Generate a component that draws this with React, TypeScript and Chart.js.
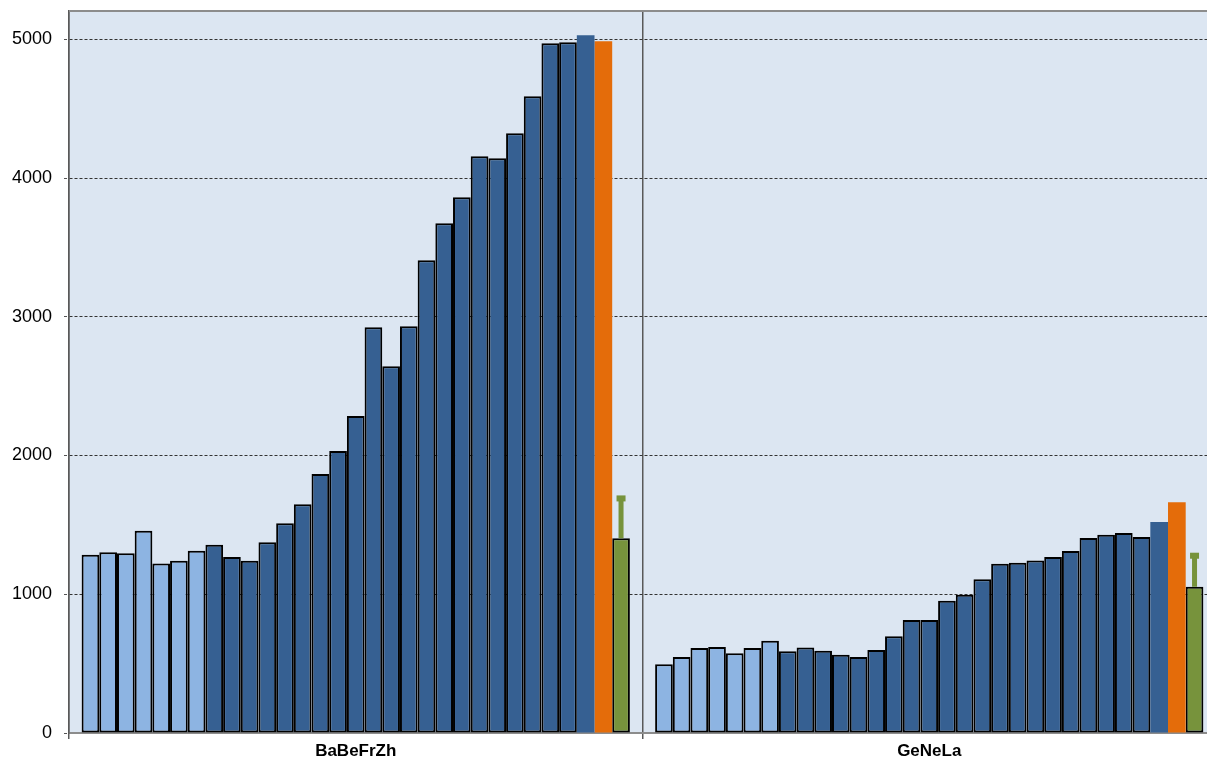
import React, { useEffect, useRef } from "react";
import { Chart, registerables } from "chart.js";

Chart.register(...registerables);

const categories = ["BaBeFrZh", "GeNeLa"];

// Light blue bars (first 7 per group)
const lightG1 = [1285, 1302, 1295, 1458, 1222, 1241, 1313];
const lightG2 = [495, 548, 612, 619, 574, 612, 665];

// Dark blue bordered bars (21 per group)
const darkG1 = [1357, 1268, 1241, 1374, 1511, 1648, 1866, 2032, 2284, 2925, 2644, 2932, 3408, 3674, 3862, 4157, 4143, 4323, 4589, 4971, 4978];
const darkG2 = [589, 617, 593, 564, 548, 598, 697, 814, 814, 953, 996, 1109, 1220, 1227, 1244, 1268, 1311, 1405, 1429, 1441, 1412];

// Summary bars
const plainBlue = [5029, 1520];
const orangeVals = [4986, 1664];
const greenVals = [1403, 1054];
const greenErrTop = [1698, 1285];

const yTicks = [0, 1000, 2000, 3000, 4000, 5000];

const LIGHT = "#8DB4E2";
const DARK = "#366092";
const ORANGE = "#E46C0A";
const GREEN = "#77933C";

export default function App() {
  const ref = useRef<HTMLCanvasElement>(null);

  useEffect(() => {
    if (!ref.current) return;
    const datasets: any[] = [];
    lightG1.forEach((v, i) => {
      datasets.push({ data: [v, lightG2[i]], backgroundColor: LIGHT, borderColor: "#000", borderWidth: 2, borderSkipped: false });
    });
    darkG1.forEach((v, i) => {
      datasets.push({ data: [v, darkG2[i]], backgroundColor: DARK, borderColor: "#000", borderWidth: 2, borderSkipped: false });
    });
    datasets.push({ data: plainBlue, backgroundColor: DARK, borderWidth: 0 });
    datasets.push({ data: orangeVals, backgroundColor: ORANGE, borderWidth: 0 });
    datasets.push({ data: greenVals, backgroundColor: GREEN, borderColor: "#000", borderWidth: 2, borderSkipped: false });

    const bgPlugin = {
      id: "bg",
      beforeDraw(chart: any) {
        const { ctx, chartArea: a } = chart;
        ctx.save();
        ctx.fillStyle = "#DCE6F2";
        ctx.fillRect(a.left, a.top, a.right - a.left, a.bottom - a.top);
        ctx.restore();
      },
      afterDatasetsDraw(chart: any) {
        const { ctx, chartArea: a } = chart;
        const y = chart.scales.y;
        const idx = chart.data.datasets.length - 1;
        const meta = chart.getDatasetMeta(idx);
        ctx.save();
        meta.data.forEach((el: any, i: number) => {
          const top = y.getPixelForValue(greenErrTop[i]);
          const base = y.getPixelForValue(greenVals[i]);
          ctx.fillStyle = GREEN;
          ctx.fillRect(el.x - 2.5, top, 5, base - top);
          ctx.fillRect(el.x - 4.5, top - 2, 9, 6);
        });
        ctx.strokeStyle = "#8c8c8c";
        ctx.lineWidth = 2;
        ctx.beginPath();
        ctx.moveTo(a.left, a.top);
        ctx.lineTo(a.right, a.top);
        ctx.stroke();
        ctx.restore();
      },
    };

    const chart = new Chart(ref.current, {
      type: "bar",
      data: { labels: categories, datasets },
      options: {
        animation: false,
        responsive: false,
        maintainAspectRatio: false,
        layout: { padding: { top: 11, left: 0, right: 0, bottom: 0 } },
        plugins: { legend: { display: false }, tooltip: { enabled: false } },
        datasets: { bar: { categoryPercentage: 0.956, barPercentage: 1 } },
        scales: {
          x: {
            offset: true,
            grid: { display: true, offset: true, color: "#595959", lineWidth: 1.5, tickLength: 6, drawOnChartArea: true },
            border: { display: true, color: "#8c8c8c", width: 2 },
            ticks: { color: "#000", font: { family: "Liberation Sans, Arial", size: 17, weight: "bold" }, padding: 2 },
            afterFit(scale: any) { scale.height = 27; scale.paddingLeft = 0; scale.paddingRight = 0; },
          },
          y: {
            min: 0,
            max: 5204,
            afterBuildTicks(scale: any) { scale.ticks = yTicks.map((v) => ({ value: v })); },
            grid: { color: "#333", lineWidth: 1, tickLength: 5, tickBorderDash: [3, 2], tickColor: "#555" } as any,
            border: { display: true, color: "#595959", width: 1.5, dash: [3, 2] } as any,
            ticks: {
              color: "#000",
              font: { family: "Liberation Sans, Arial", size: 18 },
              padding: 12,
              callback: (v: any) => String(v),
            },
            afterFit(scale: any) { scale.width = 69; scale.paddingTop = 0; scale.paddingBottom = 0; },
          },
        },
      },
      plugins: [bgPlugin],
    });
    return () => chart.destroy();
  }, []);

  return (
    <div style={{ position: "fixed", left: 0, top: 0, width: 1216, height: 760, background: "#fff", overflow: "hidden" }}>
      <canvas ref={ref} width={1216} height={760} style={{ display: "block" }} />
    </div>
  );
}
